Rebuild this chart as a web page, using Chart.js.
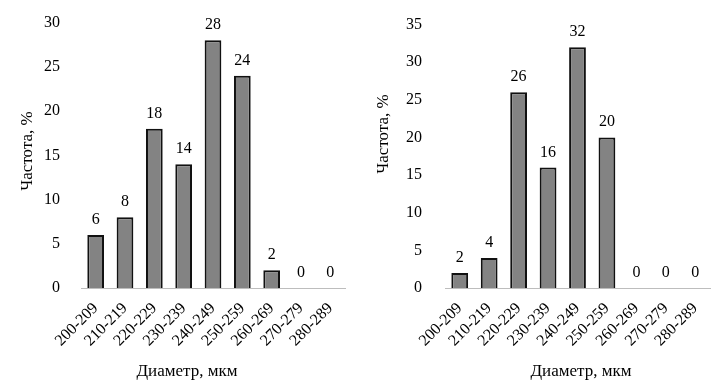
<!DOCTYPE html>
<html lang="ru">
<head>
    <meta charset="UTF-8">
    <title>Частота по диаметру</title>
    <script src="https://cdn.jsdelivr.net/npm/chart.js"></script>
    <style>
        body { margin: 0; background: #fff; }
        .box { position: absolute; top: 0; width: 359px; height: 385px; }
        #leftBox { left: 0; }
        #rightBox { left: 359px; }
    </style>
</head>
<body>
    <div class="box" id="leftBox"><canvas id="chartLeft"></canvas></div>
    <div class="box" id="rightBox"><canvas id="chartRight"></canvas></div>

    <script>
        // data
        const categories = ['200-209', '210-219', '220-229', '230-239', '240-249', '250-259', '260-269', '270-279', '280-289'];
        const valuesLeft = [6, 8, 18, 14, 28, 24, 2, 0, 0];
        const valuesRight = [2, 4, 26, 16, 32, 20, 0, 0, 0];
        const yMaxLeft = 30;
        const yMaxRight = 35;
        const yStep = 5;
        const xTitle = 'Диаметр, мкм';
        const yTitle = 'Частота, %';

        const FONT_FAMILY = '"Liberation Serif", "Times New Roman", serif';
        const FONT_SIZE = 16;
        const TITLE_SIZE = 17;

        // value above each bar
        const valueLabels = {
            id: 'valueLabels',
            afterDatasetsDraw(chart) {
                const ctx = chart.ctx;
                const meta = chart.getDatasetMeta(0);
                const data = chart.data.datasets[0].data;
                ctx.save();
                ctx.font = FONT_SIZE + 'px ' + FONT_FAMILY;
                ctx.fillStyle = '#000';
                ctx.textAlign = 'center';
                ctx.textBaseline = 'alphabetic';
                meta.data.forEach((bar, i) => {
                    ctx.fillText(String(data[i]), bar.x, bar.y - 11);
                });
                ctx.restore();
            }
        };

        // axis titles, placed by hand like in the original figure
        const axisTitles = {
            id: 'axisTitles',
            afterDraw(chart, args, opts) {
                const ctx = chart.ctx;
                ctx.save();
                ctx.font = TITLE_SIZE + 'px ' + FONT_FAMILY;
                ctx.fillStyle = '#000';
                ctx.textAlign = 'center';
                ctx.textBaseline = 'middle';
                ctx.fillText(xTitle, opts.xPos[0], opts.xPos[1]);
                ctx.translate(opts.yPos[0], opts.yPos[1]);
                ctx.rotate(-Math.PI / 2);
                ctx.fillText(yTitle, 0, 0);
                ctx.restore();
            }
        };

        function makeChart(id, values, yMax, opt) {
            const ctx = document.getElementById(id).getContext('2d');
            return new Chart(ctx, {
                type: 'bar',
                data: {
                    labels: categories,
                    datasets: [{
                        data: values,
                        backgroundColor: '#838383',
                        borderColor: '#111',
                        borderWidth: 2,
                        categoryPercentage: 1,
                        barPercentage: 0.57
                    }]
                },
                options: {
                    responsive: true,
                    maintainAspectRatio: false,
                    animation: false,
                    layout: { padding: { top: opt.padTop, right: opt.padRight, left: 0, bottom: 0 } },
                    plugins: {
                        legend: { display: false },
                        tooltip: { enabled: false },
                        axisTitles: { xPos: opt.xTitlePos, yPos: opt.yTitlePos }
                    },
                    scales: {
                        x: {
                            grid: { display: false },
                            border: { display: true, color: '#bdbdbd', width: 1 },
                            ticks: {
                                autoSkip: false,
                                minRotation: 45,
                                maxRotation: 45,
                                padding: 3,
                                color: '#000',
                                font: { family: FONT_FAMILY, size: FONT_SIZE }
                            },
                            afterFit(scale) { scale.height = 97; }
                        },
                        y: {
                            min: 0,
                            max: yMax,
                            grid: { display: false },
                            border: { display: false },
                            ticks: {
                                stepSize: yStep,
                                padding: opt.tickPad,
                                color: '#000',
                                font: { family: FONT_FAMILY, size: FONT_SIZE }
                            },
                            afterFit(scale) { scale.width = opt.yWidth; }
                        }
                    }
                },
                plugins: [valueLabels, axisTitles]
            });
        }

        makeChart('chartLeft', valuesLeft, yMaxLeft, {
            padTop: 14, padRight: 14, yWidth: 81, tickPad: 13,
            xTitlePos: [187, 372], yTitlePos: [28, 151]
        });
        makeChart('chartRight', valuesRight, yMaxRight, {
            padTop: 15, padRight: 8, yWidth: 86, tickPad: 15,
            xTitlePos: [222, 372], yTitlePos: [25, 134]
        });
    </script>
</body>
</html>
